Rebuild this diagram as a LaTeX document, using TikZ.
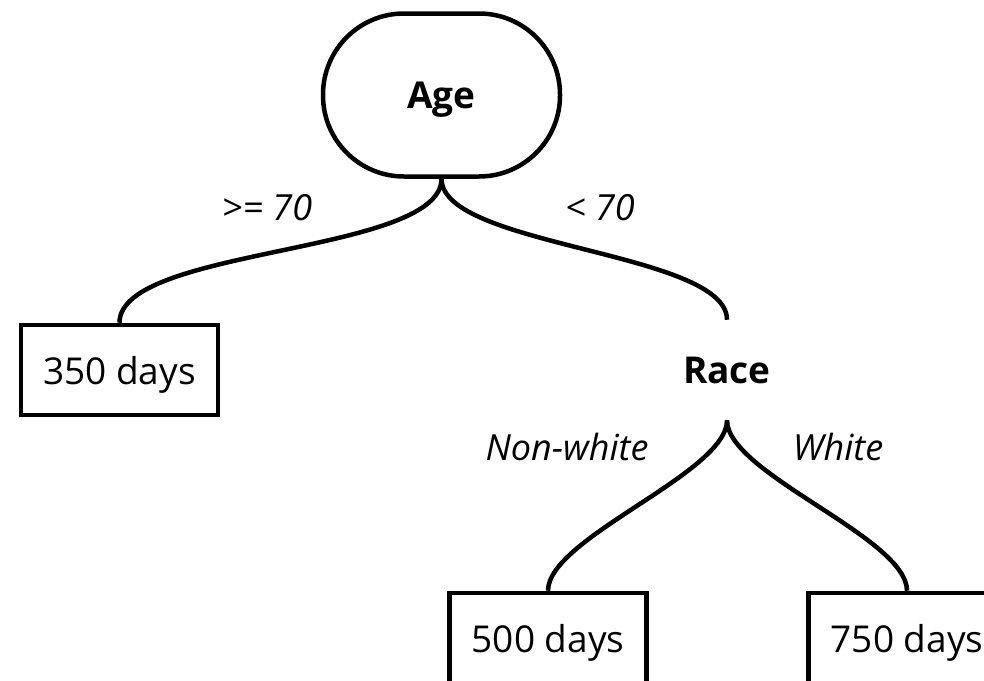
\documentclass[tikz,border=0pt]{standalone}
\usepackage{fontspec}
\setmainfont{Open Sans}
\usetikzlibrary{positioning}

\begin{document}
\begin{tikzpicture}[x=1pt,y=-1pt,line width=4.5pt,
    every node/.style={font=\fontsize{37}{44}\selectfont},
    split/.style={font=\fontsize{37}{44}\selectfont\bfseries,text depth=0pt},
    leaf/.style={draw,minimum width=197pt,minimum height=90pt,inner sep=0pt,
      text depth=0pt},
    cond/.style={font=\fontsize{36}{42}\selectfont\itshape},
    branch/.style={out=-90,in=90,looseness=0.55}]

  \clip (0,0) rectangle (984,680);

  \node[split,draw,rounded corners=81pt,minimum width=237pt,
    minimum height=163pt] (age) at (441.5,95) {Age};
  \node[leaf] (d350) at (119.5,370) {350 days};
  \node[split,minimum height=96pt] (race) at (727,370) {Race};
  \node[leaf] (d500) at (548,638) {500 days};
  \node[leaf] (d750) at (907,638) {750 days};

  \node[cond] (old) at (267,208) {>= 70};
  \node[cond] (young) at (600,208) {< 70};
  \node[cond] (nonwhite) at (567,447) {Non-white};
  \node[cond] (white) at (838,447) {White};

  \draw
  (age.south) to[branch] (d350.north)
  (age.south) to[branch] (race.north)
  (race.south) to[branch] (d500.north)
  (race.south) to[branch] (d750.north);

\end{tikzpicture}
\end{document}
